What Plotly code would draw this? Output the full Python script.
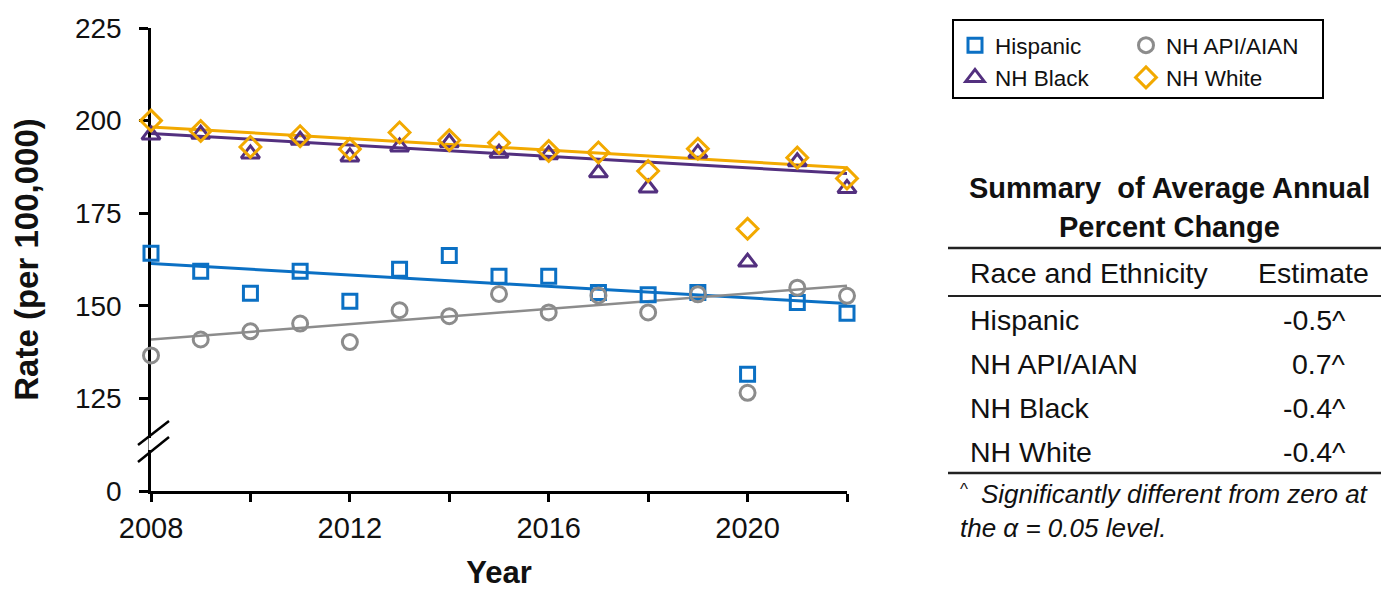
import plotly.graph_objects as go

# ---------------- data ----------------
years = [2008, 2009, 2010, 2011, 2012, 2013, 2014, 2015, 2016, 2017, 2018, 2019, 2020, 2021, 2022]

hispanic = [164.2, 159.3, 153.4, 159.3, 151.2, 159.9, 163.6, 158.0, 158.0, 153.6, 153.0, 153.6, 131.5, 150.9, 148.0]
api_aian = [136.6, 140.9, 143.1, 145.2, 140.2, 148.8, 147.2, 153.2, 148.2, 152.8, 148.2, 153.1, 126.5, 154.9, 152.7]
nh_black = [196.1, 196.3, 191.0, 194.7, 190.2, 192.9, 194.0, 191.2, 190.8, 185.9, 181.8, 191.2, 161.8, 188.9, 181.7]
nh_white = [200.0, 197.2, 192.9, 195.8, 192.3, 196.8, 194.7, 194.0, 191.8, 191.4, 186.4, 192.4, 170.8, 190.0, 184.4]

# fitted trend lines (start year, end year)
trend_years = [2008, 2022]
hispanic_trend = [161.4, 150.6]
api_aian_trend = [140.9, 155.4]
nh_black_trend = [196.5, 185.7]
nh_white_trend = [198.3, 187.3]

x_tick_vals = [2008, 2010, 2012, 2014, 2016, 2018, 2020, 2022]
x_tick_text = ["2008", "", "2012", "", "2016", "", "2020", ""]
y_tick_vals = [100, 125, 150, 175, 200, 225]          # 100 stands for the broken-axis "0"
y_tick_text = ["0", "125", "150", "175", "200", "225"]

table_groups = ["Hispanic", "NH API/AIAN", "NH Black", "NH White"]
table_estimates = ["-0.5^", "0.7^", "-0.4^", "-0.4^"]

# ---------------- styling ----------------
FONT = "Arial, 'Liberation Sans', sans-serif"
C_HISP = "#0B70C4"
C_API = "#8C8C8C"
C_BLACK = "#53307F"
C_WHITE = "#F2A900"

OFF = 8  # page body margin
W, H = 1389, 593
L, R, T, B = 151, 542, 28, 102
PW, PH = W - L - R, H - T - B


def px_x(px):
    return (px - L) / PW


def px_y(py):
    return 1 - (py - T) / PH


fig = go.Figure()

# trend lines
for yv, col, wd in [(hispanic_trend, C_HISP, 3), (api_aian_trend, C_API, 2.5),
                    (nh_black_trend, C_BLACK, 3), (nh_white_trend, C_WHITE, 3)]:
    fig.add_trace(go.Scatter(x=trend_years, y=yv, mode="lines", line=dict(color=col, width=wd),
                             showlegend=False, hoverinfo="skip", cliponaxis=False))

# markers
series = [
    ("Hispanic", hispanic, C_HISP, "square-open", 14, "legend"),
    ("NH API/AIAN", api_aian, C_API, "circle-open", 15, "legend2"),
    ("NH Black", nh_black, C_BLACK, "triangle-up-open", 16, "legend"),
    ("NH White", nh_white, C_WHITE, "diamond-open", 16, "legend2"),
]
for name, yv, col, sym, size, lg in series:
    fig.add_trace(go.Scatter(
        x=years, y=yv, mode="markers", name=name, legend=lg, cliponaxis=False,
        marker=dict(symbol=sym, size=size, color=col, line=dict(color=col, width=3)),
    ))

fig.update_xaxes(
    range=[2008, 2022], tickvals=x_tick_vals, ticktext=x_tick_text,
    showline=True, linecolor="black", linewidth=2.5, ticks="outside", ticklen=8,
    tickwidth=2.5, tickcolor="black", showgrid=False, zeroline=False, layer="below traces",
    tickfont=dict(family=FONT, size=29, color="#111"), ticklabelstandoff=1,
    title=dict(text="<b>Year</b>", font=dict(family=FONT, size=31, color="#111"), standoff=19),
    automargin=False,
)
fig.update_yaxes(
    range=[100, 225], tickvals=y_tick_vals, ticktext=y_tick_text,
    showline=True, linecolor="black", linewidth=2.5, ticks="outside", ticklen=9,
    tickwidth=2.5, tickcolor="black", showgrid=False, zeroline=False, layer="below traces",
    tickfont=dict(family=FONT, size=28, color="#111"), ticklabelstandoff=12,
    title=dict(text="<b>Rate (per 100,000)</b>", font=dict(family=FONT, size=33, color="#111"), standoff=33),
    automargin=False,
)

shapes = []
# axis break: hide axis between the two slashes, then draw slashes
shapes.append(dict(type="line", xref="paper", yref="paper", x0=0, x1=0,
                   y0=px_y(438), y1=px_y(450), line=dict(color="white", width=5)))
for (x0, y0, x1, y1) in [(138, 445, 169, 421), (138, 462, 169, 437)]:
    shapes.append(dict(type="line", xref="paper", yref="paper",
                       x0=px_x(x0), y0=px_y(y0), x1=px_x(x1), y1=px_y(y1),
                       line=dict(color="black", width=2.5)))
# legend border
shapes.append(dict(type="rect", xref="paper", yref="paper",
                   x0=px_x(953), x1=px_x(1323), y0=px_y(98), y1=px_y(20),
                   line=dict(color="black", width=2), fillcolor="rgba(0,0,0,0)"))
# table rules
for yy, wd in [(248, 2.5), (296, 2), (473, 2.5)]:
    shapes.append(dict(type="line", xref="paper", yref="paper",
                       x0=px_x(948), x1=px_x(1389), y0=px_y(yy), y1=px_y(yy),
                       line=dict(color="#222", width=wd)))

ann = []


def add_text(text, xpx, ypx, size, anchor="left", bold=False, italic=False):
    t = text
    if bold:
        t = "<b>" + t + "</b>"
    if italic:
        t = "<i>" + t + "</i>"
    ann.append(dict(text=t, xref="paper", yref="paper", x=px_x(xpx), y=px_y(ypx),
                    xanchor=anchor, yanchor="middle", showarrow=False,
                    font=dict(family=FONT, size=size, color="#111")))


add_text("Summary  of Average Annual", 1169, 188, 29, "center", bold=True)
add_text("Percent Change", 1169, 227, 29, "center", bold=True)
add_text("Race and Ethnicity", 968, 273, 28.5)
add_text("Estimate", 1371, 273, 28.5, "right")
row_y = [320, 364, 408, 452]
for g, e, yy in zip(table_groups, table_estimates, row_y):
    add_text(g, 968, yy, 28.5)
    add_text(e, 1348, yy, 28.5, "right")
add_text("^", 958, 489, 17)
add_text("Significantly different from zero at", 979, 494, 26, italic=True)
add_text("the α = 0.05 level.", 958, 528, 26, italic=True)

fig.update_layout(
    width=W - OFF, height=H - OFF,
    margin=dict(l=L - OFF, r=R, t=T - OFF, b=B, autoexpand=False),
    paper_bgcolor="white", plot_bgcolor="white", shapes=shapes, annotations=ann,
    font=dict(family=FONT, color="#111"),
    legend=dict(x=px_x(955), y=px_y(24), xanchor="left", yanchor="top", orientation="v",
                font=dict(family=FONT, size=22.5, color="#111"), bgcolor="rgba(0,0,0,0)",
                borderwidth=0, tracegroupgap=0, itemwidth=30),
    legend2=dict(x=px_x(1126), y=px_y(24), xanchor="left", yanchor="top", orientation="v",
                 font=dict(family=FONT, size=22.5, color="#111"), bgcolor="rgba(0,0,0,0)",
                 borderwidth=0, tracegroupgap=0, itemwidth=30),
    showlegend=True,
)

fig.write_html("out.html")
